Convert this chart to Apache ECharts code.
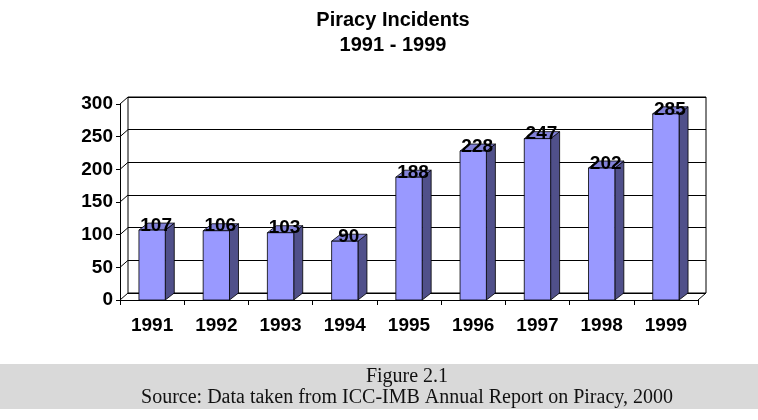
<!DOCTYPE html>
<html>
<head>
<meta charset="utf-8">
<script src="https://cdn.jsdelivr.net/npm/echarts@6/dist/echarts.min.js"></script>
<style>
  html, body { margin: 0; padding: 0; background: #fff; }
  #chart { width: 758px; height: 420px; }
</style>
</head>
<body>
<div id="chart"></div>
<script>
// data
const years = ['1991', '1992', '1993', '1994', '1995', '1996', '1997', '1998', '1999'];
const incidents = [107, 106, 103, 90, 188, 228, 247, 202, 285];
const yTicks = [0, 50, 100, 150, 200, 250, 300];

const FONT = '"Liberation Sans", Arial, sans-serif';
const SERIF = '"Liberation Serif", "Times New Roman", serif';
// 3d depth of walls and bars
const DX = 8, DY = -7;

const renderBar = (params, api) => {
  const i = api.value(0);
  const v = api.value(1);
  const base = api.coord([i, 0]);
  const top = api.coord([i, v]);
  const w = api.size([1, 0])[0] * 0.41;
  const x0 = base[0] - w / 2;
  const x1 = base[0] + w / 2;
  const dx = 9, dy = -7;
  const line = { stroke: '#000', lineWidth: 0.8 };
  return {
    type: 'group',
    children: [
      {
        type: 'polygon',
        shape: { points: [[x1, base[1]], [x1 + dx, base[1] + dy], [x1 + dx, top[1] + dy], [x1, top[1]]] },
        style: Object.assign({ fill: '#50508a' }, line),
      },
      {
        type: 'polygon',
        shape: { points: [[x0, top[1]], [x1, top[1]], [x1 + dx, top[1] + dy], [x0 + dx, top[1] + dy]] },
        style: Object.assign({ fill: '#8282d9' }, line),
      },
      {
        type: 'rect',
        shape: { x: x0, y: top[1], width: w, height: base[1] - top[1] },
        style: Object.assign({ fill: '#9999ff' }, line),
      },
      {
        type: 'text',
        style: {
          text: String(v),
          x: (x0 + x1) / 2 + 4,
          y: top[1] + 5,
          align: 'center',
          verticalAlign: 'bottom',
          fontFamily: FONT,
          fontWeight: 'bold',
          fontSize: 19,
          fill: '#000',
        },
      },
    ],
  };
};

// side wall / floor diagonals at each y tick
const renderWalls = (params, api) => {
  const v = api.value(1);
  const p = api.coord([0, v]);
  const band = api.size([1, 0])[0];
  const xl = p[0] - band / 2;
  const children = [
    { type: 'line', shape: { x1: xl, y1: p[1], x2: xl + DX, y2: p[1] + DY }, style: { stroke: '#000', lineWidth: 1 } },
  ];
  if (v === 0) {
    const xr = api.coord([years.length - 1, 0])[0] + band / 2;
    children.push({ type: 'line', shape: { x1: xr, y1: p[1], x2: xr + DX, y2: p[1] + DY }, style: { stroke: '#000', lineWidth: 1 } });
  }
  return { type: 'group', children: children };
};

const myChart = echarts.init(document.getElementById('chart'));
const option = {
  animation: false,
  backgroundColor: '#fff',
  title: {
    text: 'Piracy Incidents\n1991 - 1999',
    left: 388,
    textAlign: 'center',
    top: 3,
    textStyle: { fontFamily: FONT, fontWeight: 'bold', fontSize: 20, lineHeight: 25, color: '#000' },
  },
  grid: [
    { left: 120, top: 104, width: 578, height: 196 },
    { left: 120 + DX, top: 104 + DY, width: 578, height: 196, show: true, borderColor: '#000', borderWidth: 1, backgroundColor: 'transparent' },
  ],
  xAxis: [
    {
      type: 'category',
      gridIndex: 0,
      data: years,
      boundaryGap: true,
      axisLine: { lineStyle: { color: '#000', width: 1 } },
      axisTick: { show: true, length: 5, lineStyle: { color: '#000' } },
      axisLabel: { margin: 16, fontFamily: FONT, fontWeight: 'bold', fontSize: 19, color: '#000' },
    },
    { type: 'category', gridIndex: 1, data: years, show: false },
  ],
  yAxis: [
    {
      type: 'value',
      gridIndex: 0,
      min: 0,
      max: 300,
      interval: 50,
      axisLine: { show: true, lineStyle: { color: '#000', width: 1 } },
      axisTick: { show: true, length: 4, lineStyle: { color: '#000' } },
      splitLine: { show: false },
      axisLabel: { margin: 7, fontFamily: FONT, fontWeight: 'bold', fontSize: 19, color: '#000' },
    },
    {
      type: 'value',
      gridIndex: 1,
      min: 0,
      max: 300,
      interval: 50,
      axisLine: { show: false },
      axisTick: { show: false },
      axisLabel: { show: false },
      splitLine: { show: true, lineStyle: { color: '#000', width: 1 } },
    },
  ],
  series: [
    {
      type: 'custom',
      name: 'walls',
      xAxisIndex: 0,
      yAxisIndex: 0,
      clip: false,
      silent: true,
      z: 1,
      renderItem: renderWalls,
      data: yTicks.map((v) => [0, v]),
    },
    {
      type: 'custom',
      name: 'Incidents',
      xAxisIndex: 0,
      yAxisIndex: 0,
      clip: false,
      z: 3,
      renderItem: renderBar,
      encode: { x: 0, y: 1 },
      data: incidents.map((v, i) => [i, v]),
    },
  ],
  graphic: [
    { type: 'rect', left: 0, top: 364, shape: { width: 758, height: 45 }, style: { fill: '#d9d9d9' }, z: 0 },
    {
      type: 'text',
      x: 407,
      y: 377,
      style: { text: 'Figure 2.1', align: 'center', verticalAlign: 'middle', fontFamily: SERIF, fontSize: 20, fill: '#111' },
    },
    {
      type: 'text',
      x: 407,
      y: 398,
      style: { text: 'Source: Data taken from ICC-IMB Annual Report on Piracy, 2000', align: 'center', verticalAlign: 'middle', fontFamily: SERIF, fontSize: 20, fill: '#111' },
    },
  ],
};
myChart.setOption(option);
</script>
</body>
</html>
